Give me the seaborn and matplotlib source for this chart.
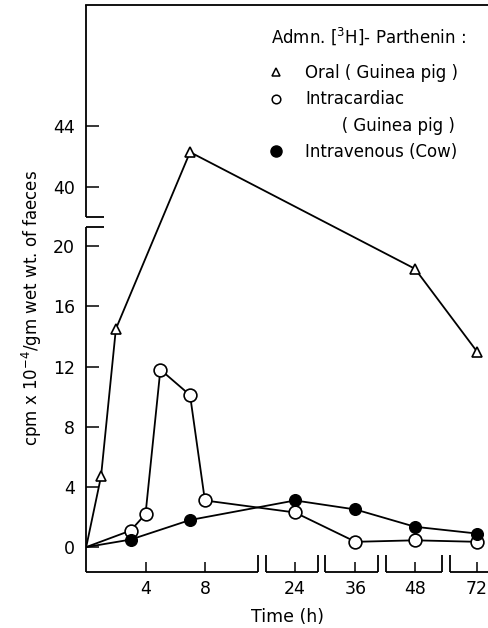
import numpy as np
import matplotlib
matplotlib.use("Agg")
import matplotlib.pyplot as plt
import seaborn as sns
from matplotlib.lines import Line2D

# ---------------- data ----------------
oral_time = [0, 1, 2, 7, 48, 72]
oral_cpm = [0, 4.7, 14.5, 42.3, 18.5, 13.0]

icard_time = [0, 3, 4, 5, 7, 8, 24, 36, 48, 72]
icard_cpm = [0, 1.1, 2.2, 11.8, 10.1, 3.1, 2.3, 0.35, 0.45, 0.35]

iv_time = [0, 3, 7, 24, 36, 48, 72]
iv_cpm = [0, 0.5, 1.8, 3.1, 2.5, 1.35, 0.9]

x_ticks = [4, 8, 24, 36, 48, 72]
y_ticks = [0, 4, 8, 12, 16, 20, 40, 44]

legend_title = "Admn. [$^{3}$H]- Parthenin :"
legend_labels = ["Oral ( Guinea pig )",
                 "Intracardiac",
                 "       ( Guinea pig )",
                 "Intravenous (Cow)"]
x_label = "Time (h)"
y_label = "cpm x 10$^{-4}$/gm wet wt. of faeces"

# ---------------- broken-axis scales (layout, in pixel units) ----------------
XH = [0, 11.6, 24, 36, 48, 72, 90]
XU = [0, 172.1, 208.8, 269.3, 328.8, 390.8, 436.7]
YV = [-10, 21.3, 38.08, 60]
YU = [-150.5, 320.3, 330.3, 665.7]


def pw(v, xp, fp):
    v = np.asarray(v, dtype=float)
    out = np.interp(v, xp, fp)
    lo_slope = (fp[1] - fp[0]) / (xp[1] - xp[0])
    hi_slope = (fp[-1] - fp[-2]) / (xp[-1] - xp[-2])
    out = np.where(v < xp[0], fp[0] + (v - xp[0]) * lo_slope, out)
    out = np.where(v > xp[-1], fp[-1] + (v - xp[-1]) * hi_slope, out)
    return out


def xf(v): return pw(v, XH, XU)
def xi(u): return pw(u, XU, XH)
def yf(v): return pw(v, YV, YU)
def yi(u): return pw(u, YU, YV)


sns.set_style("ticks")
plt.rcParams["font.family"] = ["DejaVu Sans"]
plt.rcParams["mathtext.default"] = "regular"
for k in ["text.color", "axes.labelcolor", "xtick.color", "ytick.color",
          "axes.edgecolor"]:
    plt.rcParams[k] = "black"

W, H = 489, 628
fig = plt.figure(figsize=(W / 100, H / 100), dpi=100)
left_px, right_px, top_px, bot_px = 86.2, 489, 5, 572
ax = fig.add_axes([left_px / W, (H - bot_px) / H,
                   (right_px - left_px) / W, (bot_px - top_px) / H])
ax.set_xscale("function", functions=(xf, xi))
ax.set_yscale("function", functions=(yf, yi))

lw = 1.3
skip0 = slice(1, None)
sns.lineplot(x=oral_time, y=oral_cpm, ax=ax, color="black", lw=lw,
             marker="^", markersize=7.4, markerfacecolor="white",
             markeredgecolor="black", markeredgewidth=1.2, markevery=skip0,
             zorder=3)
sns.lineplot(x=icard_time, y=icard_cpm, ax=ax, color="black", lw=lw,
             marker="o", markersize=9.2, markerfacecolor="white",
             markeredgecolor="black", markeredgewidth=1.2, markevery=skip0,
             zorder=4)
sns.lineplot(x=iv_time, y=iv_cpm, ax=ax, color="black", lw=lw,
             marker="o", markersize=8.4, markerfacecolor="black",
             markeredgecolor="black", markeredgewidth=1.0, markevery=skip0,
             zorder=5)

xmin, xmax = 0, float(xi(right_px - left_px))
ymin, ymax = float(yi(-(bot_px - 547))), float(yi(547 - top_px))
ax.set_xlim(xmin, xmax)
ax.set_ylim(ymin, ymax)

ax.set_xticks(x_ticks)
ax.set_xticklabels([str(t) for t in x_ticks])
ax.set_yticks(y_ticks)
ax.set_yticklabels([str(t) for t in y_ticks])
ax.minorticks_off()
ax.tick_params(axis="y", direction="in", length=9.4, width=1.1,
               labelsize=12.5, pad=8, colors="black")
ax.tick_params(axis="x", direction="in", length=7.2, width=1.1,
               labelsize=12.5, pad=6, colors="black")

for s in ["left", "bottom", "right"]:
    ax.spines[s].set_visible(False)
ax.spines["top"].set_linewidth(1.3)
ax.spines["top"].set_color("black")

deco = dict(color="black", lw=1.3, clip_on=False, zorder=6,
            solid_capstyle="butt")
# broken left axis
cap_x = float(xi(18))
ax.plot([0, 0], [ymin, YV[1]], **deco)
ax.plot([0, cap_x], [YV[1], YV[1]], **deco)
ax.plot([0, 0], [YV[2], ymax], **deco)
ax.plot([0, cap_x], [YV[2], YV[2]], **deco)

# broken bottom axis
cap_y = float(yi(float(yf(ymin)) + 17))
segs_u = [(0, 172.1), (179.8, 232.1), (238.8, 292.1), (299.8, 355.5),
          (363.8, right_px - left_px)]
for i, (u0, u1) in enumerate(segs_u):
    x0, x1 = float(xi(u0)), float(xi(u1))
    ax.plot([x0, x1], [ymin, ymin], **deco)
    if i > 0:
        ax.plot([x0, x0], [ymin, cap_y], **deco)
    if i < len(segs_u) - 1:
        ax.plot([x1, x1], [ymin, cap_y], **deco)

ax.set_xlabel(x_label, fontsize=12.5, labelpad=7)
ax.set_ylabel(y_label, fontsize=12)
ax.yaxis.set_label_coords(-0.105, 0.466)

# legend title as a text, entries as a legend
fig.text(271 / W, 1 - 36 / H, legend_title, fontsize=12, ha="left",
         va="center")
handles = [
    Line2D([], [], ls="none", marker="^", markersize=5.6,
           markerfacecolor="white", markeredgecolor="black", markeredgewidth=1.1),
    Line2D([], [], ls="none", marker="o", markersize=6.2,
           markerfacecolor="white", markeredgecolor="black", markeredgewidth=1.1),
    Line2D([], [], ls="none", marker="none"),
    Line2D([], [], ls="none", marker="o", markersize=8,
           markerfacecolor="black", markeredgecolor="black"),
]
leg = ax.legend(handles, legend_labels, loc="upper left",
                bbox_to_anchor=(270 / W, 1 - 64 / H),
                bbox_transform=fig.transFigure, frameon=False,
                handlelength=0.7, handletextpad=1.4,
                borderpad=0, borderaxespad=0, labelspacing=0.5,
                fontsize=12)

fig.savefig("out.png", dpi=100)
